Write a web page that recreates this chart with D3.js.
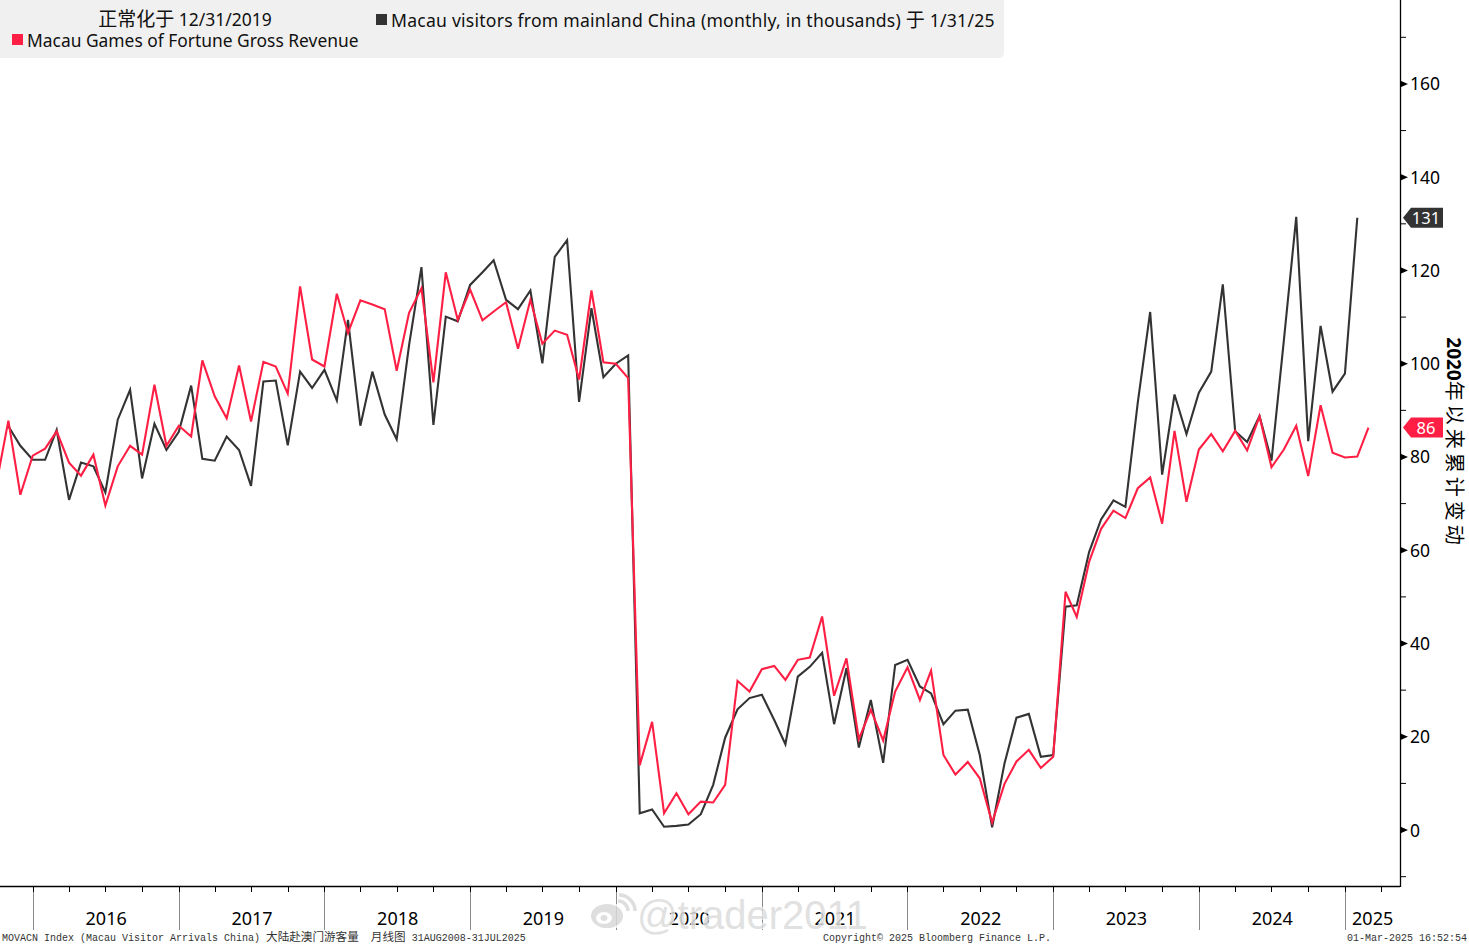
<!DOCTYPE html>
<html><head><meta charset="utf-8">
<script src="https://cdn.jsdelivr.net/npm/d3@7"></script>
<style>
html,body{margin:0;padding:0;background:#fff;overflow:hidden;}
svg{display:block;}
</style></head><body>
<svg id="c" width="1469" height="945"></svg>
<script>
// ---------------- DATA ----------------
// Macau Games of Fortune Gross Revenue, normalised (12/31/2019 = 100), monthly from Sep 2015
const revenueStart = [2015, 8];
const revenue = [
  73.8, 87.8, 71.9, 80.3,
  81.8, 85.5, 78.8, 76.0, 80.5, 69.6, 78.0, 82.4, 80.5, 95.5, 82.4, 86.7,
  84.4, 100.7, 93.0, 88.3, 99.6, 87.6, 100.4, 99.4, 93.6, 116.6, 100.9, 99.4,
  115.0, 106.6, 113.6, 112.7, 111.7, 98.5, 110.9, 116.2, 96.0, 119.6, 109.4, 115.9,
  109.3, 111.2, 113.2, 103.2, 113.7, 104.3, 107.1, 106.2, 96.6, 115.7, 100.3, 100.0,
  96.9, 13.9, 23.2, 3.6, 7.9, 3.4, 6.1, 5.9, 9.7, 32.0, 29.7, 34.5,
  35.2, 32.2, 36.5, 37.0, 45.8, 28.8, 36.8, 19.5, 25.8, 19.2, 29.7, 34.9,
  27.9, 34.2, 16.1, 11.9, 14.6, 11.1, 1.6, 9.9, 14.7, 17.2, 13.3, 15.7,
  51.1, 45.7, 57.5, 64.6, 68.5, 66.9, 73.3, 75.6, 65.7, 85.6, 70.4, 81.6,
  84.9, 81.2, 85.6, 81.4, 88.7, 77.8, 81.6, 86.7, 75.9, 91.1, 80.9, 79.9,
  80.1, 86.3
];
// Macau visitors from mainland China, normalised, monthly from Oct 2015
const visitorsStart = [2015, 9];
const visitors = [
  86.6, 82.4, 79.4,
  79.4, 85.8, 70.8, 78.8, 78.0, 72.4, 88.0, 94.4, 75.4, 87.1, 81.5, 85.4,
  95.3, 79.6, 79.2, 84.4, 81.5, 73.8, 96.2, 96.4, 82.5, 98.3, 94.8, 98.7,
  92.1, 109.4, 86.7, 98.3, 89.1, 83.8, 104.0, 120.7, 86.9, 110.1, 109.1, 116.9,
  119.6, 122.2, 113.7, 111.7, 115.7, 100.1, 122.9, 126.5, 91.8, 111.9, 97.1, 100.0,
  101.8, 3.6, 4.4, 0.7, 0.9, 1.2, 3.4, 9.7, 19.8, 25.9, 28.3, 29.0,
  23.6, 18.4, 32.9, 35.0, 38.0, 22.7, 34.7, 17.7, 27.9, 14.4, 35.4, 36.5,
  30.8, 29.3, 22.7, 25.6, 25.8, 16.1, 0.6, 14.3, 24.1, 24.9, 15.7, 16.1,
  47.9, 48.2, 59.6, 66.6, 70.7, 69.3, 91.7, 111.1, 76.2, 93.4, 84.9, 93.8,
  98.3, 117.0, 85.5, 83.2, 88.8, 79.2, 105.0, 131.5, 83.4, 108.1, 94.0, 97.9,
  131.3
];
const yMajorTicks = [0, 20, 40, 60, 80, 100, 120, 140, 160];
const yMinorTicks = [-10, 10, 30, 50, 70, 90, 110, 130, 150, 170];
const yearTicks = [2016, 2017, 2018, 2019, 2020, 2021, 2022, 2023, 2024, 2025];
const seriesNames = ["Macau Games of Fortune Gross Revenue",
                     "Macau visitors from mainland China (monthly, in thousands) 于 1/31/25"];
const legendTitle = "正常化于 12/31/2019";
const yTitleNum = "2020";
const yTitleCjk = "年以来累计变动";
const footerLeft = "MOVACN Index (Macau Visitor Arrivals China) 大陆赴澳门游客量  月线图 31AUG2008-31JUL2025";
const footerMid = "Copyright\u00A9 2025 Bloomberg Finance L.P.";
const footerRight = "01-Mar-2025 16:52:54";
const watermark = "@trader2011";

// ---------------- STYLE ----------------
const RED = "#ff1f44", DARK = "#333333";
const FONT = "'Noto Sans', 'Open Sans', sans-serif";
const MONO = "'Liberation Mono', 'DejaVu Sans Mono', monospace";
const CJK = "'Noto Sans CJK SC', sans-serif";
const plot = {left: 0, right: 1400, top: 0, bottom: 886};

const svg = d3.select("#c");

const x = d3.scaleTime()
  .domain([new Date(2015, 9, 10), new Date(2025, 4, 18)])
  .range([plot.left, plot.right]);
const y = d3.scaleLinear().domain([-12, 178]).range([plot.bottom, plot.top]);

const monthEnd = (start, i) => new Date(start[0], start[1] + i + 1, 0);
const revData = revenue.map((v, i) => ({d: monthEnd(revenueStart, i), v}));
const visData = visitors.map((v, i) => ({d: monthEnd(visitorsStart, i), v}));

svg.append("defs").append("clipPath").attr("id", "clip")
  .append("rect").attr("x", plot.left).attr("y", plot.top)
  .attr("width", plot.right - plot.left).attr("height", plot.bottom - plot.top);

// helper: split text into CJK / non-CJK runs for mixed fonts
function mixedText(sel, str, latinFont, latinSize, cjkFont, cjkSize) {
  const runs = str.match(/[\u3000-\u9fff]+|[^\u3000-\u9fff]+/g);
  runs.forEach(r => {
    const isCjk = /[\u3000-\u9fff]/.test(r);
    sel.append("tspan")
      .attr("font-family", isCjk ? cjkFont : latinFont)
      .attr("font-size", isCjk ? cjkSize : latinSize)
      .attr("xml:space", "preserve")
      .text(r);
  });
}

// ---------------- X AXIS ----------------
const xa = svg.append("g");
xa.selectAll("line.yr").data(yearTicks).join("line")
  .attr("x1", d => x(new Date(d, 0, 1))).attr("x2", d => x(new Date(d, 0, 1)))
  .attr("y1", plot.bottom).attr("y2", 930)
  .attr("stroke", "#8a8a8a").attr("stroke-width", 1).attr("shape-rendering", "crispEdges");
const quarters = d3.timeMonth.every(3).range(x.domain()[0], x.domain()[1]);
xa.selectAll("line.q").data(quarters).join("line")
  .attr("x1", d => x(d)).attr("x2", d => x(d))
  .attr("y1", plot.bottom).attr("y2", plot.bottom + 6)
  .attr("stroke", "#000").attr("stroke-width", 1).attr("shape-rendering", "crispEdges");

// ---------------- WATERMARK ----------------
const wm = svg.append("g").attr("opacity", 0.85);
wm.append("ellipse").attr("cx", 607).attr("cy", 916).attr("rx", 17).attr("ry", 13)
  .attr("fill", "#d9d9d9").attr("stroke", "#fff").attr("stroke-width", 2);
wm.append("ellipse").attr("cx", 604).attr("cy", 918).attr("rx", 8).attr("ry", 6)
  .attr("fill", "#fff");
wm.append("ellipse").attr("cx", 604).attr("cy", 918).attr("rx", 3.5).attr("ry", 3)
  .attr("fill", "#d9d9d9");
wm.append("path").attr("d", "M618,901 a10,10 0 0 1 10,10 M619,895 a16,16 0 0 1 16,16")
  .attr("fill", "none").attr("stroke", "#d9d9d9").attr("stroke-width", 3.5);
wm.append("text").attr("x", 637).attr("y", 929)
  .attr("font-family", "'Liberation Sans', Arial, sans-serif").attr("font-size", 40)
  .attr("fill", "#dcdcdc").attr("stroke", "#fff").attr("stroke-width", 1.5)
  .attr("paint-order", "stroke").text(watermark);

// year labels
xa.selectAll("text.yl").data(yearTicks).join("text")
  .attr("x", d => {
    const a = x(new Date(d, 0, 1)), b = Math.min(x(new Date(d + 1, 0, 1)), plot.right);
    return (a + b) / 2;
  })
  .attr("y", 925).attr("text-anchor", "middle")
  .attr("font-family", FONT).attr("font-size", 18).attr("fill", "#000")
  .text(d => d);

// axis lines
svg.append("line").attr("x1", plot.left).attr("x2", plot.right)
  .attr("y1", plot.bottom + 0.5).attr("y2", plot.bottom + 0.5)
  .attr("stroke", "#000").attr("stroke-width", 1.3);
svg.append("line").attr("x1", plot.right + 0.5).attr("x2", plot.right + 0.5)
  .attr("y1", plot.top).attr("y2", plot.bottom + 1)
  .attr("stroke", "#000").attr("stroke-width", 1.3);

// ---------------- Y AXIS (right) ----------------
const ya = svg.append("g");
ya.selectAll("path.maj").data(yMajorTicks).join("path")
  .attr("d", d => `M${plot.right},${y(d) - 3.5} L${plot.right + 8},${y(d)} L${plot.right},${y(d) + 3.5} Z`)
  .attr("fill", "#000");
ya.selectAll("line.min").data(yMinorTicks).join("line")
  .attr("x1", plot.right).attr("x2", plot.right + 6)
  .attr("y1", d => y(d)).attr("y2", d => y(d))
  .attr("stroke", "#000").attr("stroke-width", 1);
ya.selectAll("text").data(yMajorTicks).join("text")
  .attr("x", 1410).attr("y", d => y(d) + 6.5)
  .attr("font-family", FONT).attr("font-size", 17.5).attr("fill", "#000")
  .text(d => d);

// y title (rotated)
const yt = svg.append("text")
  .attr("transform", `translate(1447,443) rotate(90)`)
  .attr("text-anchor", "middle").attr("fill", "#000");
yt.append("tspan").attr("font-family", FONT).attr("font-weight", "bold")
  .attr("font-size", 19).text(yTitleNum);
yt.append("tspan").attr("font-family", CJK)
  .attr("font-size", 20).attr("letter-spacing", 4).text(yTitleCjk);

// ---------------- LINES ----------------
const line = d3.line().x(d => x(d.d)).y(d => y(d.v));
const lines = svg.append("g").attr("clip-path", "url(#clip)");
lines.append("path").datum(visData).attr("d", line)
  .attr("fill", "none").attr("stroke", DARK).attr("stroke-width", 2.1)
  .attr("stroke-linejoin", "miter");
lines.append("path").datum(revData).attr("d", line)
  .attr("fill", "none").attr("stroke", RED).attr("stroke-width", 2.1)
  .attr("stroke-linejoin", "miter");

// ---------------- VALUE TAGS ----------------
function tag(val, color) {
  const yy = y(val);
  const g = svg.append("g");
  g.append("path")
    .attr("d", `M${plot.right + 3},${yy} L${plot.right + 11},${yy - 10} L${plot.right + 43},${yy - 10} L${plot.right + 43},${yy + 10} L${plot.right + 11},${yy + 10} Z`)
    .attr("fill", color);
  g.append("text").attr("x", plot.right + 26).attr("y", yy + 6)
    .attr("text-anchor", "middle").attr("font-family", FONT).attr("font-size", 16.5)
    .attr("fill", "#fff").text(Math.round(val));
}
tag(visitors[visitors.length - 1], DARK);
tag(revenue[revenue.length - 1], RED);

// ---------------- LEGEND ----------------
const lg = svg.append("g");
lg.append("rect").attr("x", -6).attr("y", -6).attr("width", 1010).attr("height", 64)
  .attr("rx", 5).attr("fill", "#f0f0f0");
const lt = lg.append("text").attr("x", 185).attr("y", 26).attr("text-anchor", "middle").attr("fill", "#111");
mixedText(lt, legendTitle, FONT, 17.5, CJK, 19);
lg.append("rect").attr("x", 12).attr("y", 34).attr("width", 11).attr("height", 11).attr("fill", RED);
lg.append("text").attr("x", 27).attr("y", 46.5)
  .attr("font-family", FONT).attr("font-size", 17.4).attr("fill", "#111")
  .text(seriesNames[0]);
lg.append("rect").attr("x", 376).attr("y", 14).attr("width", 11).attr("height", 11).attr("fill", DARK);
const l2 = lg.append("text").attr("x", 391).attr("y", 26.5).attr("fill", "#111").attr("letter-spacing", 0.22);
mixedText(l2, seriesNames[1], FONT, 17.6, CJK, 19);

// ---------------- FOOTER ----------------
const ft = svg.append("g").attr("fill", "#333");
const f1 = ft.append("text").attr("x", 2).attr("y", 941);
mixedText(f1, footerLeft, MONO, 10, CJK, 11.6);
ft.append("text").attr("x", 937).attr("y", 941).attr("text-anchor", "middle")
  .attr("font-family", MONO).attr("font-size", 10).text(footerMid);
ft.append("text").attr("x", 1467).attr("y", 941).attr("text-anchor", "end")
  .attr("font-family", MONO).attr("font-size", 10).text(footerRight);
</script>
</body></html>
